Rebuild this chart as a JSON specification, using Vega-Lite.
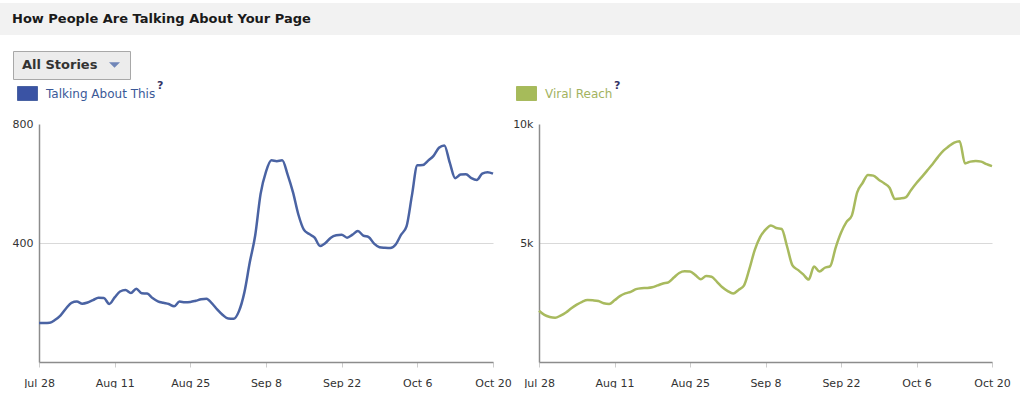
{
  "$schema": "https://vega.github.io/schema/vega-lite/v6.json",
  "padding": {"left": 0, "top": 3, "right": 0, "bottom": 0},
  "background": "#ffffff",
  "spacing": 3,
  "config": {
    "view": {"stroke": null},
    "font": "DejaVu Sans",
    "axis": {"labelFont": "DejaVu Sans", "labelFontSize": 11, "labelColor": "#333333", "domainColor": "#8c8c8c", "domainWidth": 1.5},
    "legend": {
      "labelFont": "DejaVu Sans", "labelFontSize": 12,
      "titleFont": "DejaVu Sans", "titleFontSize": 11, "titleFontWeight": "bold", "titleColor": "#333366",
      "titleOrient": "right", "titleAnchor": "start", "titleBaseline": "top", "titlePadding": 2,
      "padding": 0, "symbolType": "M-1,-0.7H1V0.7H-1Z", "symbolSize": 400, "labelOffset": 8
    }
  },
  "datasets": {
    "insights": [
      {"date": "2012-07-28T00:00:00", "talking": 131, "reach": 2155},
      {"date": "2012-07-29T00:00:00", "talking": 131, "reach": 1980},
      {"date": "2012-07-30T00:00:00", "talking": 132, "reach": 1890},
      {"date": "2012-07-31T00:00:00", "talking": 142, "reach": 1860},
      {"date": "2012-08-01T00:00:00", "talking": 157, "reach": 1950},
      {"date": "2012-08-02T00:00:00", "talking": 180, "reach": 2080},
      {"date": "2012-08-03T00:00:00", "talking": 199, "reach": 2260},
      {"date": "2012-08-04T00:00:00", "talking": 203, "reach": 2410},
      {"date": "2012-08-05T00:00:00", "talking": 196, "reach": 2530},
      {"date": "2012-08-06T00:00:00", "talking": 200, "reach": 2600},
      {"date": "2012-08-07T00:00:00", "talking": 208, "reach": 2590},
      {"date": "2012-08-08T00:00:00", "talking": 216, "reach": 2560},
      {"date": "2012-08-09T00:00:00", "talking": 215, "reach": 2470},
      {"date": "2012-08-10T00:00:00", "talking": 195, "reach": 2440},
      {"date": "2012-08-11T00:00:00", "talking": 217, "reach": 2590},
      {"date": "2012-08-12T00:00:00", "talking": 237, "reach": 2770},
      {"date": "2012-08-13T00:00:00", "talking": 242, "reach": 2880},
      {"date": "2012-08-14T00:00:00", "talking": 232, "reach": 2950},
      {"date": "2012-08-15T00:00:00", "talking": 246, "reach": 3060},
      {"date": "2012-08-16T00:00:00", "talking": 231, "reach": 3100},
      {"date": "2012-08-17T00:00:00", "talking": 230, "reach": 3110},
      {"date": "2012-08-18T00:00:00", "talking": 215, "reach": 3140},
      {"date": "2012-08-19T00:00:00", "talking": 204, "reach": 3220},
      {"date": "2012-08-20T00:00:00", "talking": 199, "reach": 3300},
      {"date": "2012-08-21T00:00:00", "talking": 195, "reach": 3350},
      {"date": "2012-08-22T00:00:00", "talking": 187, "reach": 3548},
      {"date": "2012-08-23T00:00:00", "talking": 203, "reach": 3740},
      {"date": "2012-08-24T00:00:00", "talking": 201, "reach": 3810},
      {"date": "2012-08-25T00:00:00", "talking": 202, "reach": 3800},
      {"date": "2012-08-26T00:00:00", "talking": 206, "reach": 3650},
      {"date": "2012-08-27T00:00:00", "talking": 211, "reach": 3480},
      {"date": "2012-08-28T00:00:00", "talking": 213, "reach": 3615},
      {"date": "2012-08-29T00:00:00", "talking": 197, "reach": 3580},
      {"date": "2012-08-30T00:00:00", "talking": 176, "reach": 3370},
      {"date": "2012-08-31T00:00:00", "talking": 158, "reach": 3140},
      {"date": "2012-09-01T00:00:00", "talking": 146, "reach": 2980},
      {"date": "2012-09-02T00:00:00", "talking": 145, "reach": 2880},
      {"date": "2012-09-03T00:00:00", "talking": 171, "reach": 3030},
      {"date": "2012-09-04T00:00:00", "talking": 234, "reach": 3210},
      {"date": "2012-09-05T00:00:00", "talking": 335, "reach": 3900},
      {"date": "2012-09-06T00:00:00", "talking": 425, "reach": 4700},
      {"date": "2012-09-07T00:00:00", "talking": 565, "reach": 5250},
      {"date": "2012-09-08T00:00:00", "talking": 640, "reach": 5560},
      {"date": "2012-09-09T00:00:00", "talking": 678, "reach": 5740},
      {"date": "2012-09-10T00:00:00", "talking": 675, "reach": 5630},
      {"date": "2012-09-11T00:00:00", "talking": 678, "reach": 5590},
      {"date": "2012-09-12T00:00:00", "talking": 630, "reach": 4853},
      {"date": "2012-09-13T00:00:00", "talking": 570, "reach": 4060},
      {"date": "2012-09-14T00:00:00", "talking": 495, "reach": 3870},
      {"date": "2012-09-15T00:00:00", "talking": 445, "reach": 3680},
      {"date": "2012-09-16T00:00:00", "talking": 430, "reach": 3463},
      {"date": "2012-09-17T00:00:00", "talking": 418, "reach": 4010},
      {"date": "2012-09-18T00:00:00", "talking": 390, "reach": 3800},
      {"date": "2012-09-19T00:00:00", "talking": 400, "reach": 3960},
      {"date": "2012-09-20T00:00:00", "talking": 418, "reach": 4030},
      {"date": "2012-09-21T00:00:00", "talking": 426, "reach": 4800},
      {"date": "2012-09-22T00:00:00", "talking": 428, "reach": 5430},
      {"date": "2012-09-23T00:00:00", "talking": 418, "reach": 5875},
      {"date": "2012-09-24T00:00:00", "talking": 428, "reach": 6150},
      {"date": "2012-09-25T00:00:00", "talking": 440, "reach": 7130},
      {"date": "2012-09-26T00:00:00", "talking": 425, "reach": 7520},
      {"date": "2012-09-27T00:00:00", "talking": 420, "reach": 7860},
      {"date": "2012-09-28T00:00:00", "talking": 398, "reach": 7830},
      {"date": "2012-09-29T00:00:00", "talking": 386, "reach": 7660},
      {"date": "2012-09-30T00:00:00", "talking": 384, "reach": 7510},
      {"date": "2012-10-01T00:00:00", "talking": 383, "reach": 7320},
      {"date": "2012-10-02T00:00:00", "talking": 395, "reach": 6850},
      {"date": "2012-10-03T00:00:00", "talking": 428, "reach": 6870},
      {"date": "2012-10-04T00:00:00", "talking": 456, "reach": 6920},
      {"date": "2012-10-05T00:00:00", "talking": 560, "reach": 7230},
      {"date": "2012-10-06T00:00:00", "talking": 661, "reach": 7520},
      {"date": "2012-10-07T00:00:00", "talking": 662, "reach": 7780},
      {"date": "2012-10-08T00:00:00", "talking": 677, "reach": 8050},
      {"date": "2012-10-09T00:00:00", "talking": 693, "reach": 8320},
      {"date": "2012-10-10T00:00:00", "talking": 720, "reach": 8620},
      {"date": "2012-10-11T00:00:00", "talking": 728, "reach": 8880},
      {"date": "2012-10-12T00:00:00", "talking": 670, "reach": 9060},
      {"date": "2012-10-13T00:00:00", "talking": 618, "reach": 9220},
      {"date": "2012-10-14T00:00:00", "talking": 630, "reach": 9280},
      {"date": "2012-10-15T00:00:00", "talking": 631, "reach": 8340},
      {"date": "2012-10-16T00:00:00", "talking": 618, "reach": 8420},
      {"date": "2012-10-17T00:00:00", "talking": 612, "reach": 8450},
      {"date": "2012-10-18T00:00:00", "talking": 633, "reach": 8420},
      {"date": "2012-10-19T00:00:00", "talking": 638, "reach": 8310},
      {"date": "2012-10-20T00:00:00", "talking": 633, "reach": 8230}
    ]
  },
  "vconcat": [
    {
      "width": 1020,
      "height": 32,
      "view": {"fill": "#f2f2f2", "stroke": null},
      "data": {"values": [{"label": "How People Are Talking About Your Page"}]},
      "mark": {"type": "text", "align": "left", "baseline": "middle", "dx": 12, "font": "DejaVu Sans", "fontWeight": "bold", "fontSize": 13, "color": "#1a1a1a"},
      "encoding": {
        "text": {"field": "label"},
        "x": {"datum": 0, "type": "quantitative", "scale": {"domain": [0, 1]}, "axis": null}
      }
    },
    {
      "bounds": "full",
      "spacing": 0,
      "hconcat": [
        {
          "width": 12,
          "height": 1,
          "data": {"values": [{}]},
          "mark": {"type": "text", "text": ""}
        },
        {
          "width": 117,
          "height": 28,
          "view": {"fill": "#ececec", "stroke": "#a8a8a8"},
          "title": {"text": " ", "orient": "top", "anchor": "start", "offset": 11, "fontSize": 1},
          "data": {"values": [{"label": "All Stories"}]},
          "layer": [
            {
              "mark": {"type": "text", "align": "left", "baseline": "middle", "dx": 9, "font": "DejaVu Sans", "fontWeight": "bold", "fontSize": 13, "color": "#333333"},
              "encoding": {
                "text": {"field": "label"},
                "x": {"datum": 0, "type": "quantitative", "scale": {"domain": [0, 1]}, "axis": null}
              }
            },
            {
              "mark": {"type": "point", "shape": "M-1,-0.5L1,-0.5L0,0.5Z", "size": 121, "filled": true, "color": "#7086b8", "opacity": 1, "xOffset": -15.5},
              "encoding": {
                "x": {"datum": 1, "type": "quantitative", "scale": {"domain": [0, 1]}, "axis": null}
              }
            }
          ]
        }
      ]
    },
    {
      "bounds": "full",
      "spacing": 0,
      "resolve": {"scale": {"color": "independent"}, "legend": {"color": "independent"}},
      "hconcat": [
        {
          "width": 12,
          "height": 1,
          "data": {"values": [{}]},
          "mark": {"type": "text", "text": ""}
        },
        {
          "width": 454,
          "height": 238,
          "data": {"name": "insights"},
          "mark": {"type": "line", "strokeWidth": 2.5, "interpolate": "monotone"},
          "encoding": {
            "x": {
              "field": "date", "type": "temporal",
              "scale": {"nice": false},
              "axis": {
                "title": null, "grid": false, "format": "%b %-d",
                "values": [
                  {"year": 2012, "month": "jul", "date": 28},
                  {"year": 2012, "month": "aug", "date": 11},
                  {"year": 2012, "month": "aug", "date": 25},
                  {"year": 2012, "month": "sep", "date": 8},
                  {"year": 2012, "month": "sep", "date": 22},
                  {"year": 2012, "month": "oct", "date": 6},
                  {"year": 2012, "month": "oct", "date": 20}
                ],
                "labelFlush": false, "labelOverlap": false,
                "tickSize": 5, "tickColor": "#cccccc", "labelPadding": 10
              }
            },
            "y": {
              "field": "talking", "type": "quantitative",
              "scale": {"domain": [0, 800], "nice": false},
              "axis": {
                "title": null, "values": [400, 800], "ticks": false, "labelPadding": 6,
                "grid": true,
                "gridColor": {"condition": {"test": "datum.value >= 800", "value": "transparent"}, "value": "#d9d9d9"}
              }
            },
            "color": {
              "datum": "Talking About This",
              "scale": {"domain": ["Talking About This"], "range": ["#4a63a3"]},
              "legend": {
                "orient": "none", "legendX": -22, "legendY": -41,
                "title": "?", "labelColor": "#3b5998",
                "encode": {
                  "symbols": {"update": {"fill": {"value": "#3a53a4"}, "stroke": {"value": "#c5cbe0"}, "strokeWidth": {"value": 1}}},
                  "title": {"update": {"dy": {"value": -3}}}
                }
              }
            }
          }
        },
        {
          "width": 453,
          "height": 238,
          "data": {"name": "insights"},
          "mark": {"type": "line", "strokeWidth": 2.5, "interpolate": "monotone"},
          "encoding": {
            "x": {
              "field": "date", "type": "temporal",
              "scale": {"nice": false},
              "axis": {
                "title": null, "grid": false, "format": "%b %-d",
                "values": [
                  {"year": 2012, "month": "jul", "date": 28},
                  {"year": 2012, "month": "aug", "date": 11},
                  {"year": 2012, "month": "aug", "date": 25},
                  {"year": 2012, "month": "sep", "date": 8},
                  {"year": 2012, "month": "sep", "date": 22},
                  {"year": 2012, "month": "oct", "date": 6},
                  {"year": 2012, "month": "oct", "date": 20}
                ],
                "labelFlush": false, "labelOverlap": false,
                "tickSize": 5, "tickColor": "#cccccc", "labelPadding": 10
              }
            },
            "y": {
              "field": "reach", "type": "quantitative",
              "scale": {"domain": [0, 10000], "nice": false},
              "axis": {
                "title": null, "values": [5000, 10000], "ticks": false, "labelPadding": 6,
                "labelExpr": "datum.value / 1000 + 'k'",
                "grid": true,
                "gridColor": {"condition": {"test": "datum.value >= 10000", "value": "transparent"}, "value": "#d9d9d9"}
              }
            },
            "color": {
              "datum": "Viral Reach",
              "scale": {"domain": ["Viral Reach"], "range": ["#a8ba5e"]},
              "legend": {
                "orient": "none", "legendX": -23, "legendY": -41,
                "title": "?", "labelColor": "#a3b35f",
                "encode": {
                  "symbols": {"update": {"fill": {"value": "#a6bb5a"}, "stroke": {"value": "#d6ddb8"}, "strokeWidth": {"value": 1}}},
                  "title": {"update": {"dy": {"value": -3}}}
                }
              }
            }
          }
        }
      ]
    }
  ]
}
